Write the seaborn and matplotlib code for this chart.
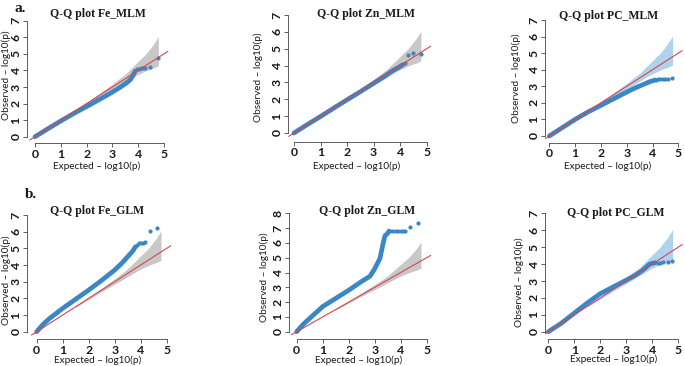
import matplotlib
matplotlib.use("Agg")
import matplotlib.pyplot as plt
import seaborn as sns

# ---- data (expected vs observed -log10 p) ----
# dense part of each curve (drawn as a thick line) + sparse tail points
fe_mlm_x = [0, 0.5, 1.0, 1.5, 2.0, 2.5, 2.9, 3.3, 3.55, 3.7, 3.8, 3.88]
fe_mlm_y = [0, 0.48, 0.95, 1.4, 1.82, 2.25, 2.6, 2.98, 3.25, 3.45, 3.7, 3.95]
fe_mlm_tail_x = [3.95, 4.02, 4.1, 4.18, 4.26, 4.46, 4.78]
fe_mlm_tail_y = [4.08, 4.1, 4.12, 4.13, 4.15, 4.22, 4.77]

zn_mlm_x = [0, 0.5, 1.0, 1.5, 2.0, 2.5, 3.0, 3.4, 3.7, 3.9, 4.1]
zn_mlm_y = [0, 0.5, 0.98, 1.48, 1.97, 2.45, 2.95, 3.35, 3.68, 3.85, 4.05]
zn_mlm_tail_x = [4.2, 4.31, 4.5, 4.79]
zn_mlm_tail_y = [4.15, 4.62, 4.72, 4.67]

pc_mlm_x = [0, 0.5, 1.0, 1.5, 2.0, 2.5, 3.0, 3.3, 3.6, 3.9, 4.1]
pc_mlm_y = [0, 0.5, 1.0, 1.45, 1.85, 2.25, 2.65, 2.88, 3.08, 3.28, 3.38]
pc_mlm_tail_x = [4.15, 4.22, 4.3, 4.4, 4.5, 4.6, 4.75]
pc_mlm_tail_y = [3.4, 3.42, 3.43, 3.44, 3.44, 3.45, 3.47]

fe_glm_x = [0, 0.25, 0.5, 1.0, 1.5, 2.0, 2.5, 3.0, 3.3, 3.5, 3.7, 3.8]
fe_glm_y = [0, 0.45, 0.8, 1.4, 1.95, 2.5, 3.08, 3.7, 4.15, 4.5, 4.85, 5.1]
fe_glm_tail_x = [3.85, 3.92, 4.0, 4.08, 4.18, 4.36, 4.64]
fe_glm_tail_y = [5.2, 5.3, 5.32, 5.33, 5.4, 6.04, 6.22]

zn_glm_x = [0, 0.25, 0.5, 1.0, 1.5, 2.0, 2.5, 2.82, 3.0, 3.1, 3.2, 3.28, 3.34, 3.4, 3.48, 3.55]
zn_glm_y = [0, 0.5, 0.9, 1.7, 2.25, 2.8, 3.4, 3.75, 4.25, 4.6, 4.95, 5.6, 6.1, 6.5, 6.6, 6.8]
zn_glm_tail_x = [3.6, 3.7, 3.8, 3.9, 4.0, 4.08, 4.17, 4.36, 4.65]
zn_glm_tail_y = [6.83, 6.83, 6.83, 6.83, 6.83, 6.83, 6.83, 7.05, 7.32]

pc_glm_x = [0, 0.5, 1.0, 1.5, 2.0, 2.5, 3.0, 3.3, 3.6, 3.9, 4.1]
pc_glm_y = [0, 0.5, 1.1, 1.7, 2.25, 2.65, 3.05, 3.3, 3.6, 4.0, 4.08]
pc_glm_tail_x = [4.2, 4.3, 4.42, 4.6, 4.74]
pc_glm_tail_y = [4.08, 4.08, 4.1, 4.12, 4.2]

# 95% confidence band (same for all traits) and y = x reference line
band_x = [1.5, 2.0, 2.5, 3.0, 3.5, 3.9, 4.3, 4.6, 4.78]
band_lo = [1.46, 1.93, 2.4, 2.85, 3.3, 3.68, 3.98, 4.15, 4.28]
band_hi = [1.55, 2.08, 2.62, 3.18, 3.78, 4.4, 5.0, 5.6, 6.05]
diag = [-0.2, 5.15]

titles = ["Q-Q plot Fe_MLM", "Q-Q plot Zn_MLM", "Q-Q plot PC_MLM",
          "Q-Q plot Fe_GLM", "Q-Q plot Zn_GLM", "Q-Q plot PC_GLM"]
y_max = [7, 7, 7, 7, 8, 7]

series = [
    (fe_mlm_x, fe_mlm_y, fe_mlm_tail_x, fe_mlm_tail_y),
    (zn_mlm_x, zn_mlm_y, zn_mlm_tail_x, zn_mlm_tail_y),
    (pc_mlm_x, pc_mlm_y, pc_mlm_tail_x, pc_mlm_tail_y),
    (fe_glm_x, fe_glm_y, fe_glm_tail_x, fe_glm_tail_y),
    (zn_glm_x, zn_glm_y, zn_glm_tail_x, zn_glm_tail_y),
    (pc_glm_x, pc_glm_y, pc_glm_tail_x, pc_glm_tail_y),
]

# ---- layout in pixels of the 685x366 canvas ----
# (x of 0, x of 5, y of 0, y of top tick, left spine, bottom spine,
#  title xy, ylabel xy, xlabel xy)
layout = [
    (35, 164, 136.7, 20.7, 27, 143, (98, 14), (6, 75), (97, 166)),
    (294, 426.7, 133, 15, 288, 141.7, (366, 14), (258, 77), (357, 166)),
    (549.3, 678.3, 136, 20, 545, 142.7, (609, 16), (516, 78), (608, 166)),
    (36.7, 166.7, 331.7, 215, 27, 339, (97, 211), (6, 280), (98, 360)),
    (296.7, 426.7, 331.7, 213.3, 289, 339.3, (367, 211), (264, 277), (359, 360)),
    (548.3, 678.3, 331.7, 213.3, 545, 339, (616, 213), (519, 282), (614, 359)),
]
band_colors = ["#c2c2c2", "#c2c2c2", "#a9cdec", "#c2c2c2", "#c2c2c2", "#a9cdec"]

W, H = 685, 366
sns.set_style("ticks")
plt.rcParams["font.family"] = ["Lato", "DejaVu Sans"]
fig = plt.figure(figsize=(W / 100, H / 100), dpi=100)

point_color = "#3a86c6"
line_color = "#d9454b"
serif = ["Liberation Serif", "DejaVu Serif"]
ink = "#1a1a1a"

for i in range(6):
    x0, x5, y0, ytop, sl, sb, tpos, ylpos, xlpos = layout[i]
    ymax = y_max[i]
    sx = (x5 - x0) / 5.0
    sy = (y0 - ytop) / ymax
    xlo = (sl - x0) / sx
    xhi = 5.25
    ylo = -(sb - y0) / sy
    yhi = ymax + 0.3
    ax = fig.add_axes([sl / W, 1 - sb / H, (xhi - xlo) * sx / W, (yhi - ylo) * sy / H])
    ax.set_xlim(xlo, xhi)
    ax.set_ylim(ylo, yhi)
    ax.patch.set_alpha(0)

    ax.fill_between(band_x, band_lo, band_hi, color=band_colors[i], lw=0, alpha=0.9)
    cx, cy, tx, ty = series[i]
    sns.lineplot(x=cx, y=cy, color=point_color, linewidth=3.4, estimator=None,
                 ax=ax, solid_capstyle="round")
    sns.scatterplot(x=tx, y=ty, color=point_color, s=9, linewidth=0, ax=ax)
    sns.lineplot(x=diag, y=diag, color=line_color, linewidth=0.8, estimator=None, ax=ax)

    sns.despine(ax=ax)
    ax.spines["left"].set_bounds(0, ymax)
    ax.spines["bottom"].set_bounds(0, 5)
    for s in ("left", "bottom"):
        ax.spines[s].set_linewidth(0.6)
        ax.spines[s].set_color("#444444")
    ax.set_xticks(range(0, 6))
    ax.set_yticks(range(0, ymax + 1))
    ax.set_yticklabels([str(v) for v in range(0, ymax + 1)], rotation=90, va="center")
    ax.tick_params(axis="both", length=3, width=0.6, color="#444444", labelsize=8.8,
                   labelcolor=ink, pad=1)
    for lab in ax.get_xticklabels() + ax.get_yticklabels():
        lab.set_fontweight("bold")
    ax.set_xlabel("")
    ax.set_ylabel("")

    fig.text(tpos[0] / W, 1 - tpos[1] / H, titles[i], ha="center", va="center",
             family=serif, fontweight="bold", fontsize=8.5, color=ink)
    fig.text(ylpos[0] / W, 1 - ylpos[1] / H, "Observed \u2013 log10(p)", rotation=90,
             ha="center", va="center", fontsize=7.2, color=ink)
    fig.text(xlpos[0] / W, 1 - xlpos[1] / H, "Expected \u2013 log10(p)",
             ha="center", va="center", fontsize=7.2, color=ink)

fig.text(20 / W, 1 - 8 / H, "a.", family=serif, fontweight="bold", fontsize=11,
         ha="center", va="center", color=ink)
fig.text(31 / W, 1 - 195 / H, "b.", family=serif, fontweight="bold", fontsize=11,
         ha="center", va="center", color=ink)

fig.savefig("out.png", dpi=100)
